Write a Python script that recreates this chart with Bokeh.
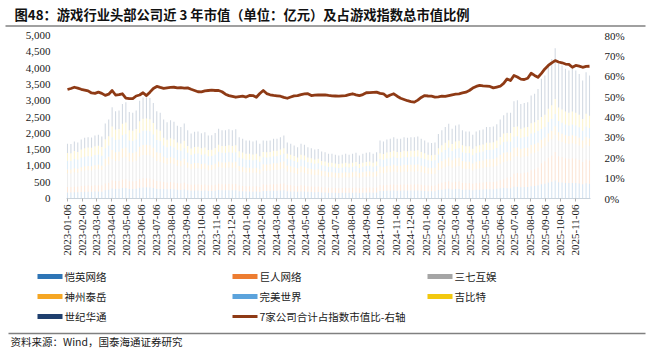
import math
import pandas as pd
from bokeh.plotting import figure
from bokeh.layouts import column
from bokeh.models import (Range1d, LinearAxis, FixedTicker, NumeralTickFormatter,
                          PrintfTickFormatter, DatetimeTickFormatter, ColumnDataSource)
from bokeh.core.properties import value
from bokeh.embed import file_html
from bokeh.resources import INLINE

# ---------------- data ----------------
title_text = "图48：游戏行业头部公司近 3 年市值（单位：亿元）及占游戏指数总市值比例"
source_text = "资料来源：Wind，国泰海通证券研究"

weeks = pd.date_range("2023-01-06", periods=153, freq="7D")

tick_labels = [
    "2023-01-06", "2023-02-06", "2023-03-06", "2023-04-06", "2023-05-06", "2023-06-06",
    "2023-07-06", "2023-08-06", "2023-09-06", "2023-10-06", "2023-11-06", "2023-12-06",
    "2024-01-06", "2024-02-06", "2024-03-06", "2024-04-06", "2024-05-06", "2024-06-06",
    "2024-07-06", "2024-08-06", "2024-09-06", "2024-10-06", "2024-11-06", "2024-12-06",
    "2025-01-06", "2025-02-06", "2025-03-06", "2025-04-06", "2025-05-06", "2025-06-06",
    "2025-07-06", "2025-08-06", "2025-09-06", "2025-10-06", "2025-11-06",
]

companies = ["恺英网络", "巨人网络", "三七互娱", "神州泰岳", "完美世界", "吉比特", "世纪华通"]
colors = ["#2E75B6", "#ED7D31", "#A5A5A5", "#F5A623", "#5BA3DC", "#F2C80F", "#1F3F6E"]
line_label = "7家公司合计占指数市值比-右轴"
line_color = "#8E3A15"

kaiying = [
    185, 184, 193, 189, 199, 205, 207, 206, 212, 215, 209,
    253, 266, 308, 295, 297, 319, 325, 292, 289, 297, 330, 341, 342, 339, 322, 295, 289,
    290, 281, 288, 282, 268, 263, 276, 251, 239, 246, 247, 240, 244, 232, 233, 241, 257, 251, 251, 254,
    251, 254, 226, 220, 214, 214, 210, 214, 202,
    231, 230, 231, 238, 238, 244, 251, 224, 218, 211, 204, 218, 215, 204, 200, 195, 198, 187, 185, 178,
    178, 174, 172, 174, 178, 174, 178, 182, 172, 178, 182, 185, 178, 185,
    231, 228, 235, 238, 244, 238, 238, 244, 242, 244, 244, 247, 238, 231, 224, 221, 224, 257, 272, 285,
    298, 278, 291, 295, 272, 267, 267, 254, 267, 272, 276, 285, 285, 287, 296, 315, 332,
    316, 316, 358, 361, 348, 352, 354, 379, 385, 403, 440, 452, 490, 514, 553, 502, 490, 478, 472, 478,
    472, 458, 434, 464, 452,
]
juren = [
    168, 167, 175, 172, 181, 186, 188, 187, 193, 195, 190,
    207, 218, 252, 241, 243, 261, 266, 239, 237, 243, 270, 279, 280, 277, 264, 241, 237,
    218, 211, 216, 212, 201, 197, 207, 188, 179, 185, 185, 180, 183, 174, 175, 181, 193, 188, 188, 191,
    188, 191, 169, 165, 160, 160, 158, 160, 151,
    196, 195, 196, 201, 201, 207, 212, 189, 185, 179, 173, 185, 182, 173, 169, 165, 167, 158, 156, 151,
    151, 147, 145, 147, 151, 147, 151, 154, 145, 151, 154, 156, 151, 156,
    178, 175, 181, 183, 188, 183, 183, 188, 186, 188, 188, 190, 183, 178, 172, 170, 172, 198, 209, 219,
    229, 214, 224, 227, 209, 205, 205, 195, 205, 209, 212, 219, 219, 221, 228, 242, 255,
    330, 345, 400, 420, 420, 440, 450, 490, 510, 550, 640, 690, 760, 800, 876, 794, 775, 756, 747, 756,
    747, 726, 688, 735, 716,
]
sanqi = [
    420, 418, 438, 430, 453, 465, 470, 468, 483, 488, 475,
    529, 557, 644, 616, 621, 667, 679, 610, 605, 621, 690, 713, 715, 708, 674, 616, 605,
    581, 562, 576, 564, 535, 526, 552, 502, 478, 492, 494, 480, 487, 463, 466, 482, 514, 502, 502, 509,
    502, 509, 451, 439, 427, 427, 420, 427, 403,
    427, 425, 427, 439, 439, 451, 463, 413, 403, 390, 377, 403, 396, 377, 370, 360, 365, 346, 341, 329,
    329, 322, 317, 322, 329, 322, 329, 336, 317, 329, 336, 341, 329, 341,
    374, 368, 380, 384, 395, 384, 384, 395, 391, 395, 395, 399, 384, 374, 361, 357, 361, 416, 439, 460,
    481, 449, 470, 477, 439, 431, 431, 410, 431, 439, 445, 460, 460, 464, 479, 508, 536,
    500, 495, 520, 515, 490, 495, 495, 510, 505, 500, 470, 470, 490, 500, 520, 480, 470, 460, 455, 460,
    455, 445, 425, 450, 440,
]
shenzhou = [
    118, 117, 123, 120, 127, 130, 132, 131, 135, 137, 133,
    230, 242, 280, 268, 270, 290, 295, 265, 263, 270, 300, 310, 311, 308, 293, 268, 263,
    194, 187, 192, 188, 178, 175, 184, 167, 159, 164, 165, 160, 162, 154, 155, 161, 171, 167, 167, 170,
    167, 170, 150, 146, 142, 142, 140, 142, 134,
    196, 195, 196, 201, 201, 207, 212, 189, 185, 179, 173, 185, 182, 173, 169, 165, 167, 158, 156, 151,
    151, 147, 145, 147, 151, 147, 151, 154, 145, 151, 154, 156, 151, 156,
    196, 193, 199, 201, 207, 201, 201, 207, 205, 207, 207, 209, 201, 196, 189, 187, 189, 218, 230, 241,
    252, 235, 246, 250, 230, 226, 226, 215, 226, 230, 233, 241, 241, 243, 251, 266, 281,
    270, 265, 275, 270, 260, 262, 260, 265, 262, 258, 250, 248, 255, 262, 270, 255, 250, 245, 242, 245,
    242, 238, 230, 240, 236,
]
wanmei = [
    269, 267, 280, 275, 290, 298, 301, 299, 309, 312, 304,
    322, 339, 392, 375, 378, 406, 413, 371, 368, 378, 420, 434, 435, 431, 410, 375, 368,
    339, 328, 336, 329, 312, 307, 322, 293, 279, 287, 288, 280, 284, 270, 272, 281, 300, 293, 293, 297,
    293, 297, 263, 256, 249, 249, 245, 249, 235,
    214, 212, 214, 220, 220, 226, 232, 206, 202, 195, 188, 202, 198, 188, 185, 180, 182, 173, 170, 164,
    164, 161, 158, 161, 164, 161, 164, 168, 158, 164, 168, 170, 164, 170,
    231, 228, 235, 238, 244, 238, 238, 244, 242, 244, 244, 247, 238, 231, 224, 221, 224, 257, 272, 285,
    298, 278, 291, 295, 272, 267, 267, 254, 267, 272, 276, 285, 285, 287, 296, 315, 332,
    330, 325, 345, 345, 335, 338, 340, 352, 355, 360, 330, 335, 350, 360, 375, 345, 338, 330, 325, 330,
    325, 318, 302, 322, 315,
]
jibite = [
    235, 234, 245, 241, 253, 260, 263, 262, 270, 273, 266,
    276, 290, 336, 322, 324, 348, 354, 318, 316, 324, 360, 372, 373, 370, 352, 322, 316,
    242, 234, 240, 235, 223, 219, 230, 209, 199, 205, 206, 200, 203, 193, 194, 201, 214, 209, 209, 212,
    209, 212, 188, 183, 178, 178, 175, 178, 168,
    160, 159, 160, 165, 165, 169, 174, 155, 151, 146, 141, 151, 149, 141, 139, 135, 137, 130, 128, 123,
    123, 121, 119, 121, 123, 121, 123, 126, 119, 123, 126, 128, 123, 128,
    178, 175, 181, 183, 188, 183, 183, 188, 186, 188, 188, 190, 183, 178, 172, 170, 172, 198, 209, 219,
    229, 214, 224, 227, 209, 205, 205, 195, 205, 209, 212, 219, 219, 221, 228, 242, 255,
    263, 263, 298, 301, 290, 293, 295, 316, 321, 336, 367, 377, 408, 428, 461, 418, 408, 398, 393, 398,
    393, 382, 362, 387, 377,
]
huatong = [
    286, 284, 298, 292, 308, 316, 320, 318, 328, 332, 323,
    483, 508, 588, 563, 567, 609, 620, 557, 552, 567, 630, 651, 653, 647, 615, 563, 552,
    557, 538, 552, 541, 513, 504, 529, 481, 458, 472, 474, 460, 467, 444, 446, 462, 492, 481, 481, 488,
    481, 488, 432, 421, 409, 409, 403, 409, 386,
    356, 354, 356, 366, 366, 376, 386, 344, 336, 325, 314, 336, 330, 314, 308, 300, 304, 288, 284, 274,
    274, 268, 264, 268, 274, 268, 274, 280, 264, 274, 280, 284, 274, 284,
    392, 385, 398, 403, 414, 403, 403, 414, 409, 414, 414, 418, 403, 392, 378, 374, 378, 436, 460, 482,
    504, 471, 493, 499, 460, 451, 451, 429, 451, 460, 466, 482, 482, 486, 502, 532, 561,
    621, 621, 784, 798, 757, 750, 756, 848, 872, 953, 1173, 1198, 1327, 1416, 1555, 1386, 1349, 1313, 1296, 1313,
    1296, 1253, 1179, 1272, 1234,
]
ratio_pct = [
    53.5, 54.0, 54.6, 54.2, 53.6, 53.2, 52.8, 51.8, 51.6, 52.2, 51.6, 50.6, 51.2, 53.0, 50.8, 51.0, 51.4,
    49.3, 49.0, 49.0, 50.3, 50.8, 51.9, 50.5, 52.2, 54.0, 55.0, 54.5, 54.1, 54.3, 54.5, 54.6, 54.3, 54.4,
    54.2, 54.3, 53.6, 53.0, 52.4, 52.3, 52.8, 53.0, 53.2, 53.0, 53.0, 52.4, 51.2, 50.5, 50.1, 49.7, 50.0,
    50.2, 49.8, 50.6, 50.5, 49.7, 51.5, 53.0, 51.5, 50.9, 50.6, 50.4, 50.2, 49.6, 49.2, 49.8, 50.4, 50.5,
    51.0, 51.3, 51.4, 50.5, 50.7, 50.9, 50.8, 50.9, 50.6, 50.4, 50.3, 50.2, 50.4, 50.5, 51.0, 51.4, 50.9,
    50.5, 51.0, 51.9, 52.0, 52.1, 52.2, 51.6, 51.4, 50.0, 50.8, 51.4, 50.2, 49.2, 48.6, 48.0, 47.6, 47.3,
    48.3, 49.6, 50.5, 50.3, 50.2, 49.8, 49.9, 50.2, 50.1, 50.5, 50.9, 51.2, 51.4, 51.8, 52.2, 53.0, 54.2,
    55.0, 55.5, 55.3, 55.2, 55.0, 54.3, 54.7, 55.1, 56.5, 58.7, 57.9, 60.4, 59.6, 58.6, 58.4, 59.0, 61.5,
    60.4, 59.5, 61.4, 63.6, 65.3, 66.6, 67.7, 67.0, 66.6, 66.0, 65.8, 64.4, 65.3, 65.0, 64.4, 64.8, 64.9,
]

series = [kaiying, juren, sanqi, shenzhou, wanmei, jibite, huatong]

# ---------------- main chart ----------------
data = {"date": weeks, "ratio": ratio_pct}
for name, vals in zip(companies, series):
    data[name] = vals
src = ColumnDataSource(data)

DAY = 86400000
x_start = pd.Timestamp("2023-01-04")
x_end = pd.Timestamp("2025-12-07")

SERIF = "Liberation Serif"
CJK = "Noto Sans CJK SC"

p = figure(width=650, height=233, x_axis_type="datetime",
           x_range=Range1d(x_start, x_end), y_range=Range1d(0, 5000),
           output_backend="svg", toolbar_location=None, frame_align=False,
           min_border_left=66, min_border_right=60, min_border_top=8, min_border_bottom=62)
p.extra_y_ranges = {"pct": Range1d(0, 80)}
p.outline_line_color = None
p.xgrid.visible = False
p.ygrid.visible = False

p.vbar_stack(companies, x="date", width=2.2 * DAY, color=colors, fill_alpha=0.2,
             line_color=None, source=src)
p.line("date", "ratio", source=src, y_range_name="pct", color=line_color, line_width=2.8,
       line_join="round")

# x axis
xa = p.xaxis[0]
xa.ticker = FixedTicker(ticks=[pd.Timestamp(t).value // 10**6 for t in tick_labels], minor_ticks=[])
fmt = "%Y-%m-%d"
xa.formatter = DatetimeTickFormatter(days=fmt, months=fmt, years=fmt, hours=fmt, hourmin=fmt,
                                     minutes=fmt, minsec=fmt, seconds=fmt, milliseconds=fmt,
                                     microseconds=fmt)
xa.major_label_orientation = math.pi / 2
xa.axis_line_color = "#C9D3DC"
xa.major_tick_line_color = "#B0B0B0"
xa.major_tick_in = 0
xa.major_tick_out = 3
xa.minor_tick_line_color = None
xa.major_label_standoff = 3
xa.major_label_text_font = SERIF
xa.major_label_text_font_size = "11px"
xa.major_label_text_color = "#1a1a1a"

# left axis
ya = p.yaxis[0]
ya.ticker = FixedTicker(ticks=[0, 500, 1000, 1500, 2000, 2500, 3000, 3500, 4000, 4500, 5000], minor_ticks=[])
ya.formatter = NumeralTickFormatter(format="0,0")
ya.axis_line_color = None
ya.major_tick_line_color = None
ya.minor_tick_line_color = None
ya.major_label_standoff = 10
ya.major_label_text_font = SERIF
ya.major_label_text_font_size = "11px"
ya.major_label_text_color = "#1a1a1a"

# right axis
ra = LinearAxis(y_range_name="pct",
                ticker=FixedTicker(ticks=[0, 10, 20, 30, 40, 50, 60, 70, 80], minor_ticks=[]),
                formatter=PrintfTickFormatter(format="%d%%"))
ra.axis_line_color = None
ra.major_tick_line_color = None
ra.minor_tick_line_color = None
ra.major_label_standoff = 8
ra.major_label_text_font = SERIF
ra.major_label_text_font_size = "11px"
ra.major_label_text_color = "#1a1a1a"
p.add_layout(ra, "right")

# ---------------- title strip ----------------
t = figure(width=650, height=27, x_range=Range1d(0, 650), y_range=Range1d(27, 0),
           output_backend="svg", toolbar_location=None, x_axis_location=None, y_axis_location=None,
           min_border=0, frame_align=False)
t.outline_line_color = None
t.grid.visible = False
t.text(x=[14], y=[14], text=[title_text], text_font=value(CJK), text_font_style="bold",
       text_font_size="13.3px", text_baseline="middle", text_color="#111111")
t.segment(x0=[5], y0=[25.5], x1=[645], y1=[25.5], line_color="#808080", line_width=1.5)

# ---------------- legend + source strip ----------------
lg = figure(width=650, height=92, x_range=Range1d(0, 650), y_range=Range1d(92, 0),
            output_backend="svg", toolbar_location=None, x_axis_location=None, y_axis_location=None,
            min_border=0, frame_align=False)
lg.outline_line_color = None
lg.grid.visible = False

col_x = [37, 232, 427]
row_y = [16, 36, 56]
items = companies + [line_label]
for k, name in enumerate(items):
    cx = col_x[k % 3]
    cy = row_y[k // 3]
    if k < len(companies):
        lg.quad(left=[cx], right=[cx + 25], top=[cy - 2.5], bottom=[cy + 2.5],
                color=colors[k], line_color=None)
    else:
        lg.segment(x0=[cx], y0=[cy], x1=[cx + 25], y1=[cy], line_color=line_color, line_width=3)
    lg.text(x=[cx + 27], y=[cy], text=[name], text_font=value(CJK), text_font_size="10.5px",
            text_baseline="middle", text_color="#1a1a1a")

lg.segment(x0=[8], y0=[73], x1=[645], y1=[73], line_color="#808080", line_width=1.5)
lg.text(x=[10], y=[81], text=[source_text], text_font=value(CJK), text_font_size="10.5px",
        text_baseline="middle", text_color="#1a1a1a")

layout = column(t, p, lg, spacing=0)
open("out.html", "w").write(file_html(layout, INLINE))
